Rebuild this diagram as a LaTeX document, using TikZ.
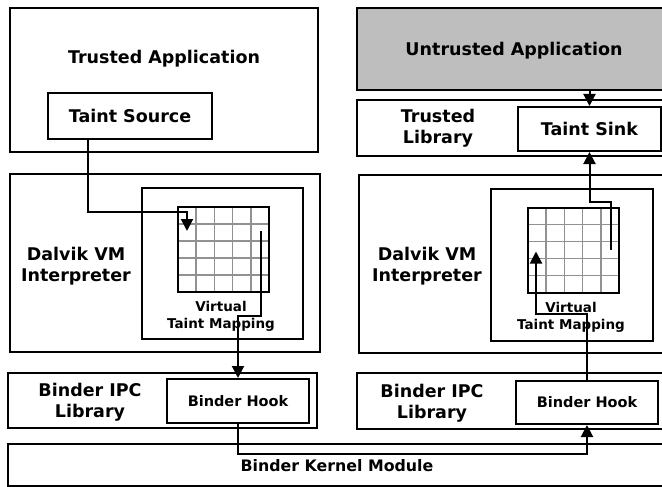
\documentclass[tikz,border=0pt]{standalone}
\usepackage{fontspec}
\setmainfont{DejaVu Sans}
\usepackage{xcolor}
\usetikzlibrary{arrows.meta,calc}
\definecolor{appgray}{RGB}{190,190,190}
\definecolor{cellgray}{RGB}{145,145,145}
\tikzset{
    box/.style={draw, line width=2pt, inner sep=0pt},
    flow/.style={line width=2pt, -{Triangle[width=12pt,length=12pt]}},
    cell/.style={draw=cellgray, line width=1.5pt, shorten <=1pt, shorten >=1pt},
    bigtext/.style={font=\fontsize{17.5}{21}\selectfont\bfseries, align=center},
    midtext/.style={font=\fontsize{14.5}{17}\selectfont\bfseries, align=center},
    smalltext/.style={font=\fontsize{13.5}{17}\selectfont\bfseries, align=center}
}

\begin{document}
\begin{tikzpicture}[x=1pt, y=-1pt]
    \clip (0,0) rectangle (662,487);

    % Trusted application with taint source
    \node[box, minimum width=308pt, minimum height=144pt] (tapp) at (164,80) {};
    \node[bigtext] (tappname) at (164,59) {Trusted Application};
    \node[box, bigtext, minimum width=164pt, minimum height=46pt] (tsrc) at (130,116) {Taint Source};

    % Untrusted application and trusted library
    \node[box, fill=appgray, minimum width=343pt, minimum height=82pt] (uapp) at (528.5,49) {};
    \node[bigtext] (uappname) at (514,51) {Untrusted Application};
    \node[box, minimum width=343pt, minimum height=56pt] (tlib) at (528.5,128) {};
    \node[bigtext] (tlibname) at (438,128) {Trusted\\Library};
    \node[box, bigtext, minimum width=143pt, minimum height=44pt] (tsink) at (589.5,129) {Taint Sink};

    % Dalvik VM interpreters
    \node[box, minimum width=310pt, minimum height=178pt] (dvmL) at (165,263) {};
    \node[bigtext] (dvmLname) at (76,266) {Dalvik VM\\Interpreter};
    \node[box, minimum width=161pt, minimum height=151pt] (vtmL) at (222.5,263.5) {};
    \node[smalltext] (vtmLname) at (221,316) {Virtual\\Taint Mapping};

    \node[box, minimum width=341pt, minimum height=178pt] (dvmR) at (529.5,264) {};
    \node[bigtext] (dvmRname) at (427,266) {Dalvik VM\\Interpreter};
    \node[box, minimum width=162pt, minimum height=152pt] (vtmR) at (572,265) {};
    \node[smalltext] (vtmRname) at (571,317) {Virtual\\Taint Mapping};

    % Taint maps (5x5 cells)
    \foreach \g/\cx/\cy in {gridL/223.5/249.5, gridR/573.5/250} {
        \foreach \i in {1,...,4} {
            \draw[cell] ($(\cx,\cy)+(-45.5,-42.5)+(\i*18.2,0)$) -- ++(0,85);
            \draw[cell] ($(\cx,\cy)+(-45.5,-42.5)+(0,\i*17)$) -- ++(91,0);
        }
        \node[box, minimum width=91pt, minimum height=85pt] (\g) at (\cx,\cy) {};
    }

    % Binder IPC libraries
    \node[box, minimum width=309pt, minimum height=55pt] (ipcL) at (162.5,400.5) {};
    \node[bigtext] (ipcLname) at (90,402) {Binder IPC\\Library};
    \node[box, midtext, minimum width=142pt, minimum height=44pt] (hookL) at (238,401) {Binder Hook};

    \node[box, minimum width=343pt, minimum height=56pt] (ipcR) at (528.5,401) {};
    \node[bigtext] (ipcRname) at (432,403) {Binder IPC\\Library};
    \node[box, midtext, minimum width=142pt, minimum height=43pt] (hookR) at (587,402.5) {Binder Hook};

    % Kernel
    \node[box, minimum width=692pt, minimum height=42pt] (kernel) at (354,465) {};
    \node[font=\fontsize{15.8}{19}\selectfont\bfseries] (kernelname) at (337,466) {Binder Kernel Module};

    % Taint flow
    \coordinate (inL) at ($(gridL.north west)+(10,25)$);
    \coordinate (outL) at ($(gridL.north east)+(-9,25)$);
    \coordinate (inR) at ($(gridR.north west)+(9,45)$);
    \coordinate (outR) at ($(gridR.north east)+(-9,43)$);
    \draw[flow] ($(tsrc.south west)+(41,0)$) |- ($(inL)+(0,-19)$) -- (inL);
    \draw[flow] (outL) -- ++(0,85) -| (hookL.north);
    \draw[flow] (hookL.south) -- ++(0,30) -| (hookR.south);
    \draw[flow] (hookR.north) -- ++(0,-66) -| (inR);
    \draw[flow] (outR) -- ++(0,-48) -| (tsink.south);
    \draw[flow] (uapp.south -| tsink) -- (tsink.north);
\end{tikzpicture}
\end{document}
